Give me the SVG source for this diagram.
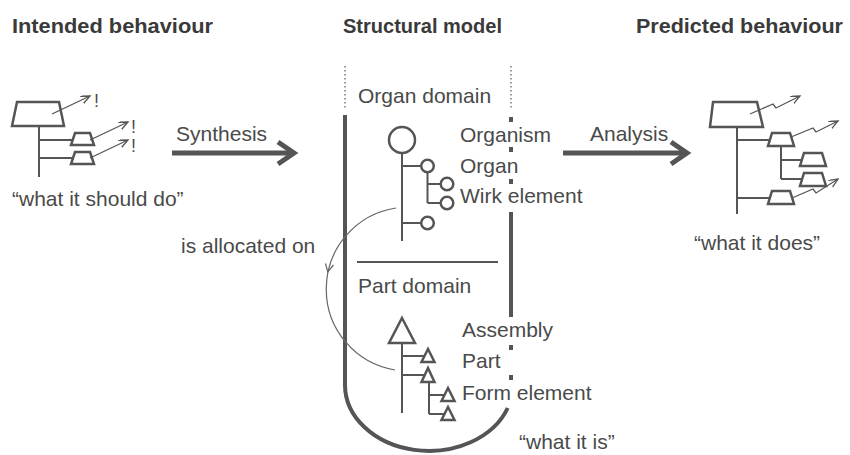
<svg xmlns="http://www.w3.org/2000/svg" width="850" height="455" viewBox="0 0 850 455">
<defs>
<marker id="open" markerUnits="userSpaceOnUse" markerWidth="12" markerHeight="10" refX="9" refY="4" orient="auto">
<path d="M0,0 L9,4 L0,8" fill="none" stroke="#555" stroke-width="1.3"/>
</marker>
</defs>
<style>
.title{font-family:"Liberation Sans",Arial,sans-serif;font-weight:bold;font-size:20px;fill:#3a3a3a}
.t{font-family:"Liberation Sans",Arial,sans-serif;font-size:21px;fill:#4a4a4a}
.ex{font-family:"Liberation Sans",Arial,sans-serif;font-size:18px;fill:#4a4a4a}
.ln{stroke:#555;stroke-width:2;fill:none}
.tr{stroke:#555;stroke-width:2.5;fill:#fff;stroke-linejoin:miter}
.ar{stroke:#555;stroke-width:1.3;fill:none;marker-end:url(#open)}
.thick{stroke:#555;stroke-width:4;fill:none}
.dot{stroke:#777;stroke-width:1.5;stroke-dasharray:1.5 2.5;fill:none}
.big{stroke:#555;stroke-width:5;fill:none;stroke-linejoin:miter}
.thin{stroke:#666;stroke-width:1.2;fill:none}
</style>
<rect width="850" height="455" fill="#fff"/>

<g id="titles">
<text class="title" x="12" y="33" textLength="201" lengthAdjust="spacingAndGlyphs">Intended behaviour</text>
<text class="title" x="343" y="33" textLength="159" lengthAdjust="spacingAndGlyphs">Structural model</text>
<text class="title" x="636" y="33" textLength="207" lengthAdjust="spacingAndGlyphs">Predicted behaviour</text>
</g>

<g id="intended">
<line class="ln" x1="39" y1="126" x2="39" y2="177"/>
<line class="ln" x1="39" y1="140" x2="72" y2="140"/>
<line class="ln" x1="39" y1="158" x2="72" y2="158"/>
<polygon class="tr" points="17,102 59,102 64,126 12,126"/>
<polygon class="tr" points="75,133 90,133 94,145 71,145"/>
<polygon class="tr" points="75,152 90,152 94,164 71,164"/>
<line class="ar" x1="52" y1="114" x2="90" y2="96"/>
<line class="ar" x1="90" y1="140" x2="128" y2="122"/>
<line class="ar" x1="90" y1="158" x2="128" y2="140"/>
<text class="ex" x="94" y="107">!</text>
<text class="ex" x="131" y="133">!</text>
<text class="ex" x="131" y="152">!</text>
<text class="t" x="12" y="206">“what it should do”</text>
</g>

<g id="structural">
<line class="dot" x1="345" y1="66" x2="345" y2="108"/>
<line class="dot" x1="511" y1="66" x2="511" y2="110"/>
<path class="thick" d="M345,115 V385 A84,66 0 0 0 507.7,408"/>
<line class="thick" x1="511" y1="117" x2="511" y2="122"/>
<line class="thick" x1="511" y1="147" x2="511" y2="152"/>
<line class="thick" x1="511" y1="179" x2="511" y2="184"/>
<line class="thick" x1="511" y1="212" x2="511" y2="317"/>
<line class="thick" x1="511" y1="345" x2="511" y2="350"/>
<line class="thick" x1="511" y1="375" x2="511" y2="380"/>
<line stroke="#555" stroke-width="2" x1="357" y1="262" x2="498" y2="262"/>
<text class="t" x="358" y="103">Organ domain</text>
<text class="t" x="358" y="293">Part domain</text>
<g id="organ-tree">
<line class="ln" x1="402" y1="153" x2="402" y2="241"/>
<line class="ln" x1="402" y1="166" x2="421" y2="166"/>
<line class="ln" x1="402" y1="223" x2="421" y2="223"/>
<line class="ln" x1="427.5" y1="172" x2="427.5" y2="203"/>
<line class="ln" x1="427.5" y1="184" x2="441" y2="184"/>
<line class="ln" x1="427.5" y1="203" x2="441" y2="203"/>
<circle class="tr" cx="402" cy="140" r="13"/>
<circle class="tr" cx="427.5" cy="166" r="6.3"/>
<circle class="tr" cx="447" cy="184" r="6.3"/>
<circle class="tr" cx="447" cy="203" r="6.3"/>
<circle class="tr" cx="427.5" cy="223" r="6.3"/>
</g>
<text class="t" x="460" y="142">Organism</text>
<text class="t" x="460" y="173">Organ</text>
<text class="t" x="460" y="203">Wirk element</text>
<g id="part-tree">
<line class="ln" x1="402" y1="343" x2="402" y2="413"/>
<line class="ln" x1="402" y1="356" x2="424" y2="356"/>
<line class="ln" x1="402" y1="375" x2="424" y2="375"/>
<line class="ln" x1="429" y1="382" x2="429" y2="414"/>
<line class="ln" x1="429" y1="395" x2="444" y2="395"/>
<line class="ln" x1="429" y1="414" x2="444" y2="414"/>
<polygon class="tr" points="402,318 415,343 389,343"/>
<polygon class="tr" points="428,349 434.5,362 421.5,362"/>
<polygon class="tr" points="428,368 434.5,382 421.5,382"/>
<polygon class="tr" points="448,388 454.5,401 441.5,401"/>
<polygon class="tr" points="448,407 454.5,420 441.5,420"/>
</g>
<text class="t" x="462" y="337">Assembly</text>
<text class="t" x="462" y="368">Part</text>
<text class="t" x="462" y="400">Form element</text>
<text class="t" x="519" y="449">“what it is”</text>
</g>

<g id="predicted">
<line class="ln" x1="737" y1="127" x2="737" y2="214"/>
<line class="ln" x1="737" y1="140" x2="770" y2="140"/>
<line class="ln" x1="737" y1="198" x2="770" y2="198"/>
<line class="ln" x1="781" y1="146" x2="781" y2="179"/>
<line class="ln" x1="781" y1="160" x2="802" y2="160"/>
<line class="ln" x1="781" y1="179" x2="802" y2="179"/>
<polygon class="tr" points="713,102 757,102 763,127 710,127"/>
<polygon class="tr" points="772,133 790,133 794,146 768,146"/>
<polygon class="tr" points="804,153 822,153 826,166 800,166"/>
<polygon class="tr" points="804,173 822,173 826,186 800,186"/>
<polygon class="tr" points="772,191 790,191 794,204 768,204"/>
<polyline class="ar" points="750,114 773,104 776,108 800,96"/>
<polyline class="ar" points="791,137 813,128 816,132 838,121"/>
<polyline class="ar" points="792,198 813,189 816,193 838,179"/>
<text class="t" x="694" y="250">“what it does”</text>
</g>

<g id="connectors">
<g id="synthesis">
<line class="big" x1="172" y1="153" x2="291" y2="153"/>
<polyline class="big" points="278,142 294,153 278,164"/>
<text class="t" x="176" y="141">Synthesis</text>
</g>
<g id="analysis">
<line class="big" x1="563" y1="153" x2="685" y2="153"/>
<polyline class="big" points="671,142 687,153 671,164"/>
<text class="t" x="590" y="141">Analysis</text>
</g>
<g id="allocation">
<path class="thin" d="M396,208 A82,82 0 0 0 395,370"/>
<polyline class="thin" points="325.5,263.5 327.8,272 333.5,265"/>
<text class="t" x="181" y="253">is allocated on</text>
</g>
</g>
</svg>
